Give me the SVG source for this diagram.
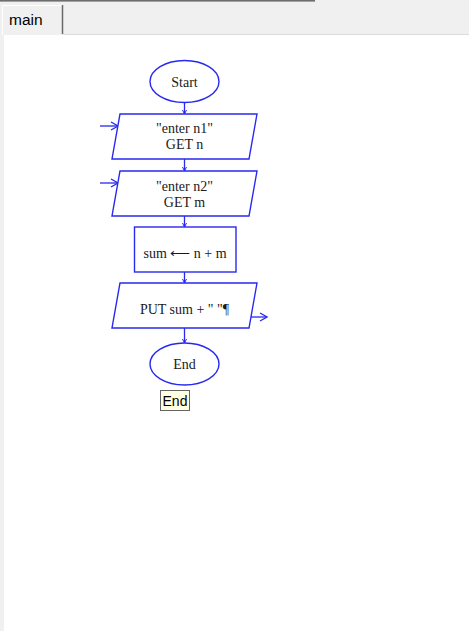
<svg xmlns="http://www.w3.org/2000/svg" width="469" height="631" viewBox="0 0 469 631">
<style>
.shape{fill:#ffffff;stroke:#2828f0;stroke-width:1.4}
.conn{fill:none;stroke:#2828f0;stroke-width:1.3}
.lbl{font-family:"Liberation Serif","Times New Roman",serif;font-size:14px;fill:#1a1a1a;text-anchor:middle}
.ui{font-family:"Liberation Sans",Arial,sans-serif;fill:#000}
</style>
<defs>
<marker id="io" viewBox="0 0 10 10" refX="9" refY="5" markerWidth="10" markerHeight="10" markerUnits="userSpaceOnUse" orient="auto">
<path d="M2,1 L9,5 L2,9" fill="none" stroke="#2828f0" stroke-width="1.3"/>
</marker>
<marker id="fl" viewBox="0 0 6 6" refX="5" refY="3" markerWidth="6" markerHeight="6" markerUnits="userSpaceOnUse" orient="auto">
<path d="M1,1 L5,3 L1,5" fill="none" stroke="#2828f0" stroke-width="1"/>
</marker>
</defs>
<rect x="0" y="0" width="469" height="631" fill="#f0f0f0"/>
<rect x="0" y="0" width="315" height="1.6" fill="#6e6e6e"/>
<rect x="4" y="35" width="465" height="596" fill="#ffffff"/>
<line x1="63" y1="34.5" x2="469" y2="34.5" stroke="#dcdcdc" stroke-width="1"/>
<g id="tab">
<path d="M2.5,35 L2.5,5.5 L62,5.5" fill="none" stroke="#ffffff" stroke-width="1"/>
<line x1="62.5" y1="5" x2="62.5" y2="34" stroke="#6a6a6a" stroke-width="1.5"/>
<text class="ui" x="9" y="25" font-size="15.5">main</text>
</g>
<g id="connectors">
<line class="conn" x1="184.5" y1="102" x2="184.5" y2="114" marker-end="url(#fl)"/>
<line class="conn" x1="184.5" y1="159" x2="184.5" y2="171" marker-end="url(#fl)"/>
<line class="conn" x1="184.5" y1="216" x2="184.5" y2="227" marker-end="url(#fl)"/>
<line class="conn" x1="184.5" y1="272" x2="184.5" y2="283" marker-end="url(#fl)"/>
<line class="conn" x1="184.5" y1="328" x2="184.5" y2="343" marker-end="url(#fl)"/>
<line class="conn" x1="100" y1="126" x2="118" y2="126" marker-end="url(#io)"/>
<line class="conn" x1="100" y1="183" x2="118" y2="183" marker-end="url(#io)"/>
<line class="conn" x1="251" y1="317" x2="267" y2="317" marker-end="url(#io)"/>
</g>
<g id="start">
<ellipse class="shape" cx="184.5" cy="81.5" rx="34.5" ry="21"/>
<text class="lbl" x="184.5" y="86.5">Start</text>
</g>
<g id="input1">
<polygon class="shape" points="120,114 257,114 249,159 112,159"/>
<text class="lbl" x="184.5" y="132.5">"enter n1"</text>
<text class="lbl" x="184.5" y="148.5">GET n</text>
</g>
<g id="input2">
<polygon class="shape" points="120,171 257,171 249,216 112,216"/>
<text class="lbl" x="184.5" y="190.5">"enter n2"</text>
<text class="lbl" x="184.5" y="206.5">GET m</text>
</g>
<g id="assign">
<rect class="shape" x="134.5" y="227" width="101.5" height="45"/>
<text class="lbl" x="185" y="257.5">sum ⟵ n + m</text>
</g>
<g id="output">
<polygon class="shape" points="120,283 257,283 249,328 112,328"/>
<text class="lbl" x="184.5" y="313.5">PUT sum + " "¶</text>
</g>
<g id="end">
<ellipse class="shape" cx="184.5" cy="364" rx="34.5" ry="21"/>
<text class="lbl" x="184.5" y="369">End</text>
</g>
<g id="endLabel">
<rect x="160.5" y="390.5" width="29" height="20" fill="#ffffe1" stroke="#646464" stroke-width="1"/>
<text class="ui" x="175" y="406" font-size="14" text-anchor="middle">End</text>
</g>
</svg>
